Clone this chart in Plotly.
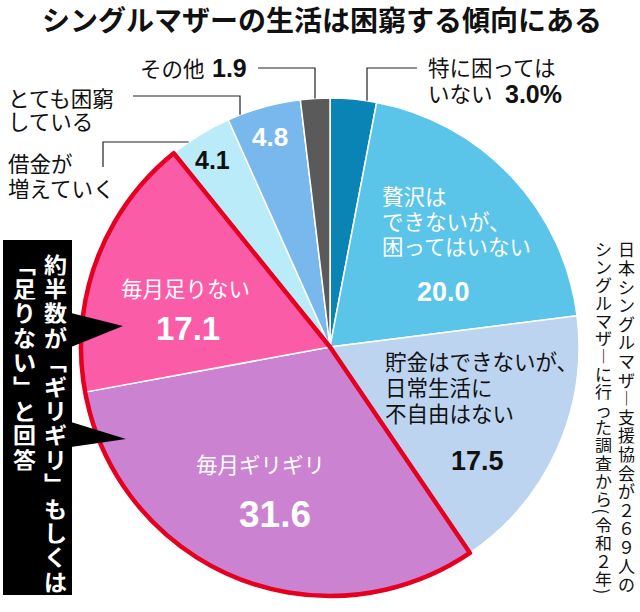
import plotly.graph_objects as go

W, H = 640, 612

# ---------------- data ----------------
title = "シングルマザーの生活は困窮する傾向にある"
categories = ["特に困ってはいない", "贅沢はできないが、困ってはいない", "貯金はできないが、日常生活に不自由はない",
              "毎月ギリギリ", "毎月足りない", "借金が増えていく", "とても困窮している", "その他"]
values = [3.0, 20.0, 17.5, 31.6, 17.1, 4.1, 4.8, 1.9]
value_labels = ["3.0%", "20.0", "17.5", "31.6", "17.1", "4.1", "4.8", "1.9"]
highlight = [False, False, False, True, True, False, False, False]
callout_cols = ["約半数が﹁ギリギリ﹂もしくは", "﹁足りない﹂と回答"]
source_cols = ["日本シングルマザ︱支援協会が２６９人の", "シングルマザ︱に行った調査から(令和２年)"]

# ---------------- style ----------------
slice_colors = ["#0A84B5", "#5BC4E9", "#BDD4F1", "#CB82D1", "#FA5CA7", "#BAEBF8", "#79B8EC", "#5A5A5A"]
RED = "#E60020"
JP = "Noto Sans CJK JP"
NUM = "Liberation Sans"
ROTATED = set("()")

CX, CY, R = 330, 347, 249


def pxx(x):
    return x / W


def pxy(y):
    return 1 - y / H


domain = dict(x=[pxx(CX - R), pxx(CX + R)], y=[pxy(CY + R), pxy(CY - R)])

fig = go.Figure()
fig.add_trace(go.Pie(
    labels=categories, values=values, sort=False, direction="clockwise", rotation=0,
    marker=dict(colors=slice_colors, line=dict(color="white", width=1.5)),
    textinfo="none", hoverinfo="label+value", showlegend=False, domain=domain,
))

# red outline around the highlighted group (run-length groups of the data)
grp_vals, grp_flags = [], []
for v, f in zip(values, highlight):
    if grp_flags and grp_flags[-1] == f:
        grp_vals[-1] += v
    else:
        grp_vals.append(v)
        grp_flags.append(f)
fig.add_trace(go.Pie(
    values=grp_vals, labels=[f"g{i}" for i in range(len(grp_vals))], sort=False,
    direction="clockwise", rotation=0,
    marker=dict(colors=["rgba(0,0,0,0)"] * len(grp_vals),
                line=dict(color=[RED if f else "rgba(0,0,0,0)" for f in grp_flags],
                          width=[4.5 if f else 0 for f in grp_flags])),
    textinfo="none", hoverinfo="skip", showlegend=False, domain=domain,
))

ann = []
shapes = []


def txt(x, y, s, size, color="#111", bold=False, family=JP, xanchor="center",
        box_h=None, box_w=None, angle=0):
    a = dict(x=pxx(x), y=pxy(y), xref="paper", yref="paper", text=s, showarrow=False,
             xanchor=xanchor, yanchor="middle", borderpad=0, borderwidth=0, align=xanchor,
             textangle=angle,
             font=dict(size=size, color=color, family=family,
                       weight="bold" if bold else "normal"))
    if box_h:
        a["height"] = box_h
    if box_w:
        a["width"] = box_w
    ann.append(a)


def lines(x, y0, step, parts, size, color="#111", xanchor="left", bold=False):
    for i, p in enumerate(parts):
        txt(x, y0 + i * step, p, size, color, bold=bold, xanchor=xanchor, box_h=step - 1)


def vertical(x, top, step, s, size, color, bold=False):
    y = top
    for ch in s:
        if ch in ROTATED:
            h = step / 2
            txt(x, y + h / 2, ch, size, color, bold=bold, angle=90)
        else:
            h = step
            txt(x, y + h / 2, ch, size, color, bold=bold, box_h=step - 1, box_w=size + 4)
        y += h


def leader(points):
    path = "M " + " L ".join(f"{pxx(x)},{pxy(y)}" for x, y in points)
    shapes.append(dict(type="path", xref="paper", yref="paper", path=path,
                       line=dict(color="#222", width=1.2), layer="above"))


def edge_y(x):
    return CY - (R * R - (x - CX) ** 2) ** 0.5


def edge_x_left(y):
    return CX - (R * R - (y - CY) ** 2) ** 0.5


# title
txt(322, 19, title, 28, "#111", bold=True)

# outside labels
txt(428, 66, "特に困っては", 21.5, xanchor="left", box_h=25)
txt(428, 92, "いない", 21.5, xanchor="left", box_h=25)
txt(505, 93, value_labels[0], 25, bold=True, family=NUM, xanchor="left", box_h=25)
leader([(417, 68), (367, 68), (367, edge_y(367))])

txt(140, 67, "その他", 21.5, xanchor="left")
txt(212, 68, value_labels[7], 25, bold=True, family=NUM, xanchor="left")
leader([(258, 68), (315, 68), (315, edge_y(315))])

lines(8, 97, 24, ["とても困窮", "している"], 21.5)
leader([(133, 96), (240, 96), (240, edge_y(240))])

lines(8, 163, 24, ["借金が", "増えていく"], 21.5)
leader([(103, 167), (103, 142), (edge_x_left(142), 142)])

# inside labels
lines(382, 195, 25, ["贅沢は", "できないが、", "困ってはいない"], 21.5, "white")
txt(443, 292, value_labels[1], 27, "white", bold=True, family=NUM)
lines(385, 360, 26, ["貯金はできないが、", "日常生活に", "不自由はない"], 21.5, "#111")
txt(477, 461, value_labels[2], 27, "#111", bold=True, family=NUM)
txt(260, 463, "毎月ギリギリ", 21.5, "white")
txt(275, 514, value_labels[3], 37, "white", bold=True, family=NUM)
txt(185, 287, "毎月足りない", 21.5, "white")
txt(188, 328, value_labels[4], 33, "white", bold=True, family=NUM)
txt(212, 160, value_labels[5], 25, "#111", bold=True, family=NUM)
txt(270, 137, value_labels[6], 26, "white", bold=True, family=NUM)

# callout box
shapes.append(dict(type="rect", xref="paper", yref="paper", x0=pxx(3), x1=pxx(72),
                   y0=pxy(595), y1=pxy(240), fillcolor="black", line=dict(width=0), layer="above"))
for tri in ([(71, 313), (123, 326), (71, 347)], [(71, 422), (126, 439), (71, 447)]):
    path = "M " + " L ".join(f"{pxx(x)},{pxy(y)}" for x, y in tri) + " Z"
    shapes.append(dict(type="path", xref="paper", yref="paper", path=path,
                       fillcolor="black", line=dict(width=0), layer="above"))
vertical(55, 251, 24.4, callout_cols[0], 23, "white", bold=True)
vertical(24, 251, 24.4, callout_cols[1], 23, "white", bold=True)

# source (vertical)
vertical(626, 240, 18.6, source_cols[0], 17, "#111")
vertical(603, 240, 17.8, source_cols[1], 17, "#111")

fig.update_layout(width=W, height=H, margin=dict(l=0, r=0, t=0, b=0),
                  paper_bgcolor="white", plot_bgcolor="white",
                  annotations=ann, shapes=shapes)
fig.write_html("out.html", config={"displayModeBar": False},
               post_script="document.body.style.margin='0';")
